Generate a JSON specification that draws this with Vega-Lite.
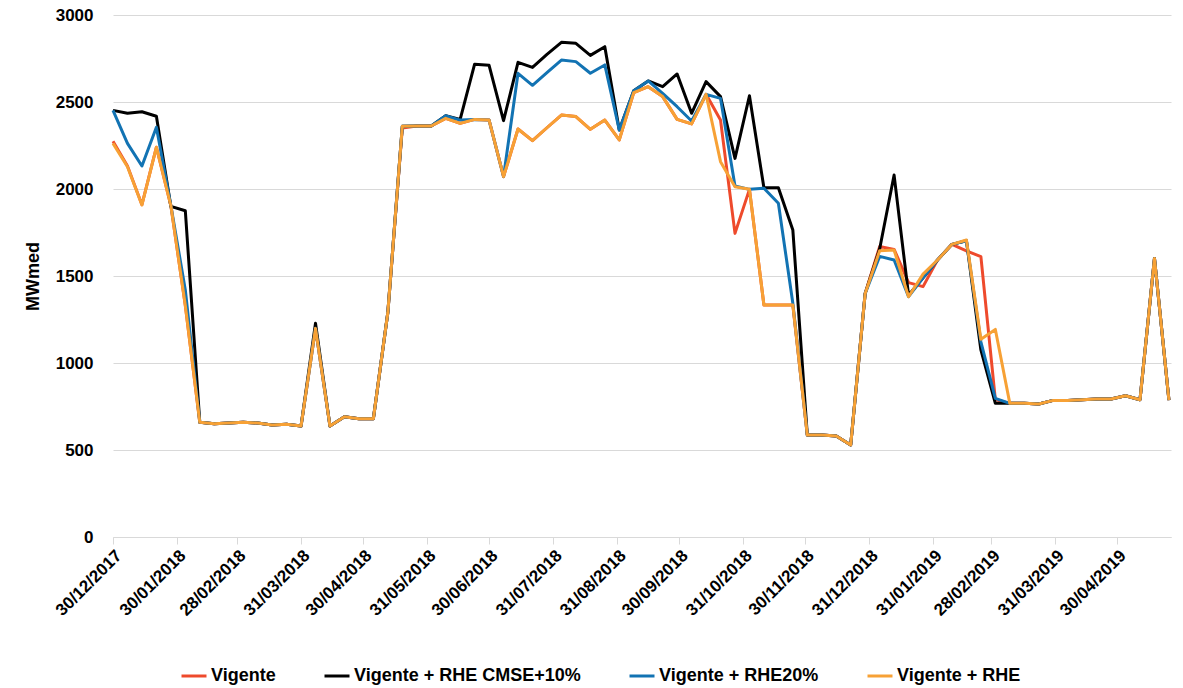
{
  "$schema": "https://vega.github.io/schema/vega-lite/v6.json",
  "width": 1058,
  "height": 522,
  "autosize": {"type": "none"},
  "padding": {"left": 113, "top": 15, "right": 12, "bottom": 151},
  "background": "white",
  "config": {"view": {"stroke": null}, "font": "Liberation Sans"},
  "data": {"values": [
    {"d": "2017-12-30", "V": 2275, "C": 2452, "B": 2452, "O": 2262},
    {"d": "2018-01-06", "V": 2132, "C": 2435, "B": 2262, "O": 2128},
    {"d": "2018-01-13", "V": 1910, "C": 2444, "B": 2132, "O": 1908},
    {"d": "2018-01-20", "V": 2240, "C": 2418, "B": 2355, "O": 2240},
    {"d": "2018-01-27", "V": 1905, "C": 1900, "B": 1905, "O": 1905},
    {"d": "2018-02-03", "V": 1330, "C": 1875, "B": 1420, "O": 1330},
    {"d": "2018-02-10", "V": 659, "C": 659, "B": 659, "O": 659},
    {"d": "2018-02-17", "V": 651, "C": 651, "B": 651, "O": 651},
    {"d": "2018-02-24", "V": 655, "C": 655, "B": 655, "O": 655},
    {"d": "2018-03-03", "V": 659, "C": 659, "B": 659, "O": 659},
    {"d": "2018-03-10", "V": 655, "C": 655, "B": 655, "O": 655},
    {"d": "2018-03-17", "V": 644, "C": 644, "B": 644, "O": 644},
    {"d": "2018-03-24", "V": 648, "C": 648, "B": 648, "O": 648},
    {"d": "2018-03-31", "V": 638, "C": 638, "B": 638, "O": 638},
    {"d": "2018-04-07", "V": 1199, "C": 1228, "B": 1199, "O": 1199},
    {"d": "2018-04-14", "V": 638, "C": 638, "B": 638, "O": 638},
    {"d": "2018-04-21", "V": 691, "C": 691, "B": 691, "O": 691},
    {"d": "2018-04-28", "V": 680, "C": 680, "B": 680, "O": 680},
    {"d": "2018-05-05", "V": 680, "C": 680, "B": 680, "O": 680},
    {"d": "2018-05-12", "V": 1290, "C": 1290, "B": 1290, "O": 1290},
    {"d": "2018-05-19", "V": 2350, "C": 2360, "B": 2360, "O": 2360},
    {"d": "2018-05-26", "V": 2362, "C": 2362, "B": 2362, "O": 2362},
    {"d": "2018-06-02", "V": 2362, "C": 2362, "B": 2362, "O": 2362},
    {"d": "2018-06-09", "V": 2406, "C": 2421, "B": 2421, "O": 2406},
    {"d": "2018-06-16", "V": 2377, "C": 2400, "B": 2396, "O": 2377},
    {"d": "2018-06-23", "V": 2400, "C": 2717, "B": 2400, "O": 2400},
    {"d": "2018-06-30", "V": 2396, "C": 2711, "B": 2396, "O": 2396},
    {"d": "2018-07-07", "V": 2071, "C": 2393, "B": 2071, "O": 2071},
    {"d": "2018-07-14", "V": 2345, "C": 2728, "B": 2665, "O": 2345},
    {"d": "2018-07-21", "V": 2278, "C": 2699, "B": 2596, "O": 2278},
    {"d": "2018-07-28", "V": 2352, "C": 2774, "B": 2669, "O": 2352},
    {"d": "2018-08-04", "V": 2425, "C": 2843, "B": 2741, "O": 2425},
    {"d": "2018-08-11", "V": 2416, "C": 2837, "B": 2732, "O": 2416},
    {"d": "2018-08-18", "V": 2343, "C": 2768, "B": 2665, "O": 2343},
    {"d": "2018-08-25", "V": 2396, "C": 2818, "B": 2713, "O": 2396},
    {"d": "2018-09-01", "V": 2282, "C": 2339, "B": 2339, "O": 2282},
    {"d": "2018-09-08", "V": 2554, "C": 2565, "B": 2565, "O": 2554},
    {"d": "2018-09-15", "V": 2588, "C": 2621, "B": 2621, "O": 2588},
    {"d": "2018-09-22", "V": 2531, "C": 2588, "B": 2550, "O": 2531},
    {"d": "2018-09-29", "V": 2400, "C": 2661, "B": 2473, "O": 2400},
    {"d": "2018-10-06", "V": 2374, "C": 2435, "B": 2391, "O": 2374},
    {"d": "2018-10-13", "V": 2544, "C": 2617, "B": 2544, "O": 2544},
    {"d": "2018-10-20", "V": 2396, "C": 2531, "B": 2521, "O": 2157},
    {"d": "2018-10-27", "V": 1745, "C": 2176, "B": 2017, "O": 2013},
    {"d": "2018-11-03", "V": 1998, "C": 2536, "B": 1998, "O": 1998},
    {"d": "2018-11-10", "V": 1333, "C": 2007, "B": 2004, "O": 1333},
    {"d": "2018-11-17", "V": 1333, "C": 2007, "B": 1918, "O": 1333},
    {"d": "2018-11-24", "V": 1333, "C": 1764, "B": 1343, "O": 1333},
    {"d": "2018-12-01", "V": 586, "C": 586, "B": 586, "O": 586},
    {"d": "2018-12-08", "V": 586, "C": 586, "B": 586, "O": 586},
    {"d": "2018-12-15", "V": 580, "C": 580, "B": 580, "O": 580},
    {"d": "2018-12-22", "V": 529, "C": 529, "B": 529, "O": 529},
    {"d": "2018-12-29", "V": 1400, "C": 1400, "B": 1400, "O": 1400},
    {"d": "2019-01-05", "V": 1669, "C": 1655, "B": 1613, "O": 1645},
    {"d": "2019-01-12", "V": 1653, "C": 2080, "B": 1592, "O": 1649},
    {"d": "2019-01-19", "V": 1462, "C": 1390, "B": 1381, "O": 1381},
    {"d": "2019-01-26", "V": 1439, "C": 1490, "B": 1490, "O": 1511},
    {"d": "2019-02-02", "V": 1592, "C": 1592, "B": 1592, "O": 1592},
    {"d": "2019-02-09", "V": 1682, "C": 1682, "B": 1682, "O": 1682},
    {"d": "2019-02-16", "V": 1645, "C": 1703, "B": 1703, "O": 1707},
    {"d": "2019-02-23", "V": 1611, "C": 1075, "B": 1122, "O": 1136},
    {"d": "2019-03-02", "V": 790, "C": 768, "B": 797, "O": 1193},
    {"d": "2019-03-09", "V": 768, "C": 768, "B": 768, "O": 768},
    {"d": "2019-03-16", "V": 768, "C": 768, "B": 768, "O": 768},
    {"d": "2019-03-23", "V": 764, "C": 764, "B": 764, "O": 764},
    {"d": "2019-03-30", "V": 785, "C": 785, "B": 785, "O": 785},
    {"d": "2019-04-06", "V": 785, "C": 785, "B": 785, "O": 785},
    {"d": "2019-04-13", "V": 789, "C": 789, "B": 789, "O": 789},
    {"d": "2019-04-20", "V": 793, "C": 793, "B": 793, "O": 793},
    {"d": "2019-04-27", "V": 793, "C": 793, "B": 793, "O": 793},
    {"d": "2019-05-04", "V": 812, "C": 812, "B": 812, "O": 812},
    {"d": "2019-05-11", "V": 789, "C": 789, "B": 789, "O": 789},
    {"d": "2019-05-18", "V": 1601, "C": 1601, "B": 1601, "O": 1601},
    {"d": "2019-05-25", "V": 787, "C": 787, "B": 787, "O": 787}
  ]},
  "transform": [{"fold": ["V", "C", "B", "O"], "as": ["serie", "valor"]}],
  "mark": {"type": "line", "strokeWidth": 3, "strokeJoin": "round", "clip": false},
  "encoding": {
    "x": {
      "field": "d",
      "type": "temporal",
      "scale": {
        "type": "utc",
        "domain": [
          {"year": 2017, "month": 12, "date": 30, "utc": true},
          {"year": 2019, "month": 5, "date": 26, "utc": true}
        ]
      },
      "axis": {
        "title": null,
        "grid": false,
        "format": "%d/%m/%Y",
        "values": [
          {"year": 2017, "month": 12, "date": 30, "utc": true},
          {"year": 2018, "month": 1, "date": 30, "utc": true},
          {"year": 2018, "month": 2, "date": 28, "utc": true},
          {"year": 2018, "month": 3, "date": 31, "utc": true},
          {"year": 2018, "month": 4, "date": 30, "utc": true},
          {"year": 2018, "month": 5, "date": 31, "utc": true},
          {"year": 2018, "month": 6, "date": 30, "utc": true},
          {"year": 2018, "month": 7, "date": 31, "utc": true},
          {"year": 2018, "month": 8, "date": 31, "utc": true},
          {"year": 2018, "month": 9, "date": 30, "utc": true},
          {"year": 2018, "month": 10, "date": 31, "utc": true},
          {"year": 2018, "month": 11, "date": 30, "utc": true},
          {"year": 2018, "month": 12, "date": 31, "utc": true},
          {"year": 2019, "month": 1, "date": 31, "utc": true},
          {"year": 2019, "month": 2, "date": 28, "utc": true},
          {"year": 2019, "month": 3, "date": 31, "utc": true},
          {"year": 2019, "month": 4, "date": 30, "utc": true}
        ],
        "labelAngle": -45,
        "labelFontSize": 17,
        "labelFontWeight": "bold",
        "labelColor": "#000000",
        "labelOverlap": false,
        "labelFlush": false,
        "labelPadding": 3,
        "domainColor": "#D9D9D9",
        "domainWidth": 1,
        "tickColor": "#D9D9D9",
        "tickSize": 7
      }
    },
    "y": {
      "field": "valor",
      "type": "quantitative",
      "scale": {"domain": [0, 3000], "nice": false},
      "axis": {
        "title": "MWmed",
        "titleFontSize": 18,
        "titleFontWeight": "bold",
        "titleColor": "#000000",
        "titlePadding": 13,
        "values": [0, 500, 1000, 1500, 2000, 2500, 3000],
        "format": "d",
        "labelFontSize": 17,
        "labelFontWeight": "bold",
        "labelColor": "#000000",
        "labelPadding": 20,
        "domain": false,
        "ticks": false,
        "gridColor": "#D9D9D9",
        "gridWidth": 1
      }
    },
    "color": {
      "field": "serie",
      "type": "nominal",
      "scale": {
        "domain": ["V", "C", "B", "O"],
        "range": ["#EE4A2C", "#000000", "#1273B3", "#F7A135"]
      },
      "legend": {
        "orient": "none",
        "legendX": 67,
        "legendY": 647,
        "direction": "horizontal",
        "columns": 4,
        "title": null,
        "symbolType": "stroke",
        "symbolStrokeWidth": 3,
        "symbolSize": 625,
        "labelFontSize": 18,
        "labelFontWeight": "bold",
        "labelColor": "#000000",
        "labelOffset": 3,
        "columnPadding": 42,
        "labelLimit": 400,
        "labelExpr": "datum.label == 'V' ? 'Vigente' : datum.label == 'C' ? 'Vigente + RHE CMSE+10%' : datum.label == 'B' ? 'Vigente + RHE20%' : 'Vigente + RHE'"
      }
    }
  }
}
